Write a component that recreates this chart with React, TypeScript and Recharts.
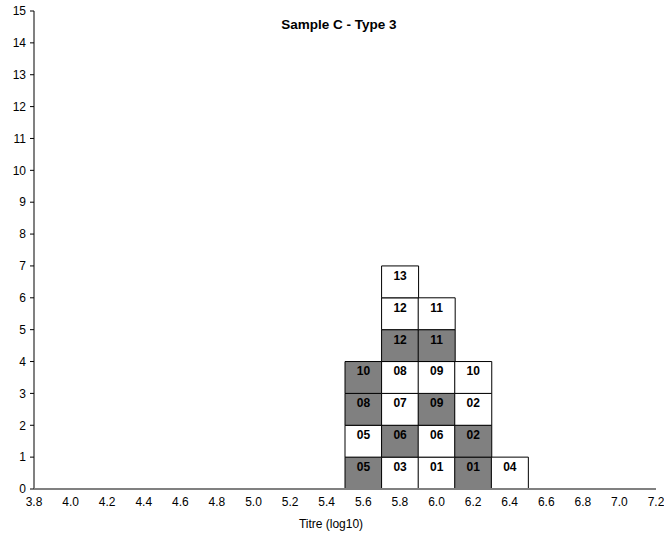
import React from 'react';
import { ComposedChart, Bar, XAxis, YAxis, Cell, LabelList } from 'recharts';

// Titre classes (log10) that hold boxes
const titres = [5.6, 5.8, 6.0, 6.2, 6.4];
// Box labels per column, from the bottom up
const boxLabels = [
  ['05', '05', '08', '10'],
  ['03', '06', '07', '08', '12', '12', '13'],
  ['01', '06', '09', '09', '11', '11'],
  ['01', '02', '02', '10'],
  ['04'],
];
// 1 = shaded box, 0 = open box
const boxShaded = [
  [1, 0, 1, 1],
  [0, 1, 0, 0, 1, 0, 0],
  [0, 0, 1, 0, 1, 0],
  [1, 1, 0, 0],
  [0],
];
const xTicks = [3.8, 4.0, 4.2, 4.4, 4.6, 4.8, 5.0, 5.2, 5.4, 5.6, 5.8, 6.0, 6.2, 6.4, 6.6, 6.8, 7.0, 7.2];
const yTicks = [0, 1, 2, 3, 4, 5, 6, 7, 8, 9, 10, 11, 12, 13, 14, 15];

const MAX_LEVEL = Math.max(...boxLabels.map(c => c.length));
const levels = Array.from({ length: MAX_LEVEL }, (_, i) => i);

// one row per titre: l<n> = 1 box at level n, t<n> = its label
const rows = titres.map((t, c) => {
  const row: any = { titre: t };
  boxLabels[c].forEach((lab, lvl) => {
    row[`l${lvl}`] = 1;
    row[`t${lvl}`] = lab;
  });
  return row;
});

const FONT = '"Liberation Sans", Arial, sans-serif';

const BoxLabel = (props: any) => {
  const { x, y, width, height, value } = props;
  if (!value) return null;
  return (
    <text x={x + width / 2} y={y + height / 2 - 2} textAnchor="middle" fontSize={12} fontWeight="bold" fill="#000" fontFamily={FONT}>
      {value}
    </text>
  );
};

export default function App() {
  return (
    <div style={{ position: 'relative', width: 664, height: 535, fontFamily: FONT, background: '#fff' }}>
      <style>{`body{margin:0}`}</style>
      <div style={{ position: 'absolute', left: 0, width: 678, top: 18, textAlign: 'center', fontSize: 13.5, lineHeight: '13.5px', fontWeight: 'bold' }}>
        Sample C - Type 3
      </div>
      <ComposedChart width={664} height={535} data={rows} margin={{ top: 11, right: 8, left: 0, bottom: 0 }} barCategoryGap={0}>
        <XAxis
          dataKey="titre"
          type="number"
          domain={[3.8, 7.2]}
          ticks={xTicks}
          interval={0}
          tickFormatter={(v: number) => v.toFixed(1)}
          axisLine={{ stroke: '#808080', strokeWidth: 2 }}
          tickLine={false}
          tick={{ fontSize: 12, fill: '#000', fontFamily: FONT }}
          height={46}
          label={{ value: 'Titre (log10)', position: 'insideBottom', offset: 7, dx: -14, fontSize: 12, fill: '#000', fontFamily: FONT }}
        />
        <YAxis
          type="number"
          domain={[0, 15]}
          ticks={yTicks}
          interval={0}
          width={34}
          axisLine={{ stroke: '#808080', strokeWidth: 2 }}
          tickLine={{ stroke: '#000' }}
          tickSize={4}
          tickMargin={4}
          tick={{ fontSize: 12, fill: '#000', fontFamily: FONT }}
        />
        {levels.map(lvl => (
          <Bar key={lvl} dataKey={`l${lvl}`} stackId="s" isAnimationActive={false} stroke="#000" strokeWidth={1}>
            {rows.map((_, c) => (
              <Cell key={c} fill={boxShaded[c][lvl] ? '#808080' : '#ffffff'} />
            ))}
            <LabelList dataKey={`t${lvl}`} content={BoxLabel} />
          </Bar>
        ))}
      </ComposedChart>
    </div>
  );
}
